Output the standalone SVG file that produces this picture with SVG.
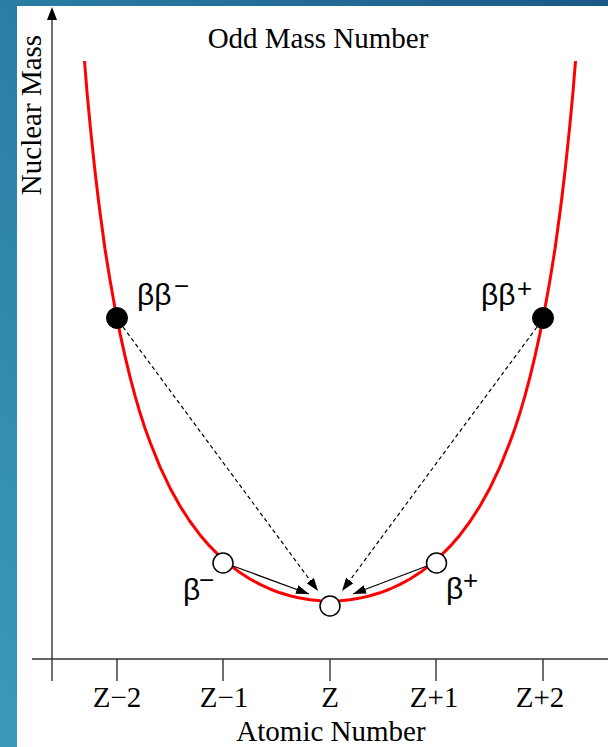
<svg xmlns="http://www.w3.org/2000/svg" width="608" height="747" viewBox="0 0 608 747">
<style>
.ax{stroke:#333;stroke-width:1.4;fill:none}
.lbl{font-family:"Liberation Serif","Times New Roman",serif;font-size:29px;fill:#000}
.sym{font-family:"Liberation Sans",Arial,sans-serif;font-size:30px;fill:#000}
.sup{font-family:"Liberation Sans",Arial,sans-serif;font-size:26px;fill:#000}
.solid{stroke:#000;stroke-width:1.2;fill:none}
.dash{stroke:#000;stroke-width:1.2;fill:none;stroke-dasharray:4 3}
.open{fill:#fff;stroke:#000;stroke-width:1.5}
.full{fill:#000;stroke:#000;stroke-width:1}
</style>
<defs>
<linearGradient id="bg" x1="0" y1="1" x2="1" y2="0">
<stop offset="0" stop-color="#3a9ab8"/>
<stop offset="0.5" stop-color="#2a7ea3"/>
<stop offset="1" stop-color="#1c5886"/>
</linearGradient>
<marker id="ah" markerUnits="userSpaceOnUse" markerWidth="14" markerHeight="10" refX="13" refY="4.5" orient="auto">
<path d="M0,0 L13,4.5 L0,9 z" fill="#000"/>
</marker>
</defs>
<rect x="0" y="0" width="608" height="747" fill="url(#bg)"/>
<rect x="17" y="6" width="591" height="741" fill="#fff"/>
<g id="axes">
<line class="ax" x1="52" y1="681" x2="52" y2="12"/>
<path d="M52,7 L57,20 L47,20 z" fill="#000"/>
<line class="ax" x1="32" y1="659" x2="608" y2="659"/>
<line class="ax" x1="117" y1="659" x2="117" y2="681"/>
<line class="ax" x1="223" y1="659" x2="223" y2="681"/>
<line class="ax" x1="330" y1="659" x2="330" y2="681"/>
<line class="ax" x1="436" y1="659" x2="436" y2="681"/>
<line class="ax" x1="543" y1="659" x2="543" y2="681"/>
<g class="lbl" text-anchor="middle">
<text x="117" y="707">Z−2</text>
<text x="224" y="707">Z−1</text>
<text x="330" y="707">Z</text>
<text x="434" y="707">Z+1</text>
<text x="540" y="707">Z+2</text>
<text x="331" y="741">Atomic Number</text>
<text x="318" y="48">Odd Mass Number</text>
<text transform="translate(41,115) rotate(-90)">Nuclear Mass</text>
</g>
</g>
<g id="curve">
<polyline fill="none" stroke="#ff0000" stroke-width="3" stroke-linejoin="round" points="84.5,61 87,91.9 90,123.7 92,143.2 95,171.1 98,196.5 100,212.2 105,249.0 110,280.1 115,308.0 120,333.4 125,356.1 130,376.9 135,395.7 140,412.8 145,428.2 150,442 160,466.9 170,487.9 180,506.0 190,521.5 200,534.9 210,546.4 220,556.5 230,565.1 240,572.6 250,579 260,584.4 270,589 280,592.8 290,595.8 300,598.1 310,599.7 320,600.7 330,601 340,600.7 350,599.7 360,598.1 370,595.8 380,592.8 390,589 400,584.4 410,579 420,572.6 430,565.1 440,556.5 450,546.4 460,534.9 470,521.5 480,506.0 490,487.9 500,466.9 510,442 515,428.2 520,412.8 525,395.7 530,376.9 535,356.1 540,333.4 545,308.0 550,280.1 555,249.0 560,212.2 562,196.5 565,171.1 568,143.2 570,123.7 573,91.9 575.5,61"/>
</g>
<g id="connectors">
<line class="dash" x1="123" y1="327" x2="318" y2="591" marker-end="url(#ah)"/>
<line class="dash" x1="537" y1="327" x2="342" y2="591" marker-end="url(#ah)"/>
<line class="solid" x1="233" y1="566" x2="309" y2="594" marker-end="url(#ah)"/>
<line class="solid" x1="427" y1="566" x2="353" y2="594" marker-end="url(#ah)"/>
</g>
<g id="node-bbminus">
<circle class="full" cx="117" cy="318" r="10.5"/>
<text class="sym" x="137" y="305">ββ</text>
<text class="sup" x="174" y="295">−</text>
</g>
<g id="node-bbplus">
<circle class="full" cx="543" cy="318" r="10.5"/>
<text class="sym" x="481" y="305">ββ</text>
<text class="sup" x="517" y="297">+</text>
</g>
<g id="node-bminus">
<circle class="open" cx="223" cy="563" r="10"/>
<text class="sym" x="183" y="600">β</text>
<text class="sup" x="199" y="589">−</text>
</g>
<g id="node-bplus">
<circle class="open" cx="436.5" cy="563" r="10"/>
<text class="sym" x="446" y="599">β</text>
<text class="sup" x="463" y="589">+</text>
</g>
<g id="node-z">
<circle class="open" cx="330" cy="606" r="10"/>
</g>
</svg>
